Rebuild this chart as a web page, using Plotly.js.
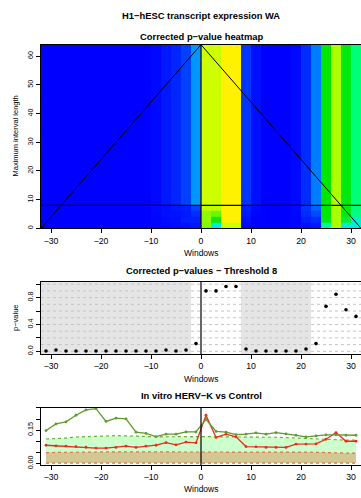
<!DOCTYPE html>
<html>
<head>
<meta charset="utf-8">
<script src="https://cdn.plot.ly/plotly-3.0.1.min.js"></script>
<style>html,body{margin:0;padding:0;background:#fff}#chart{width:361px;height:498px}</style>
</head>
<body>
<div id="chart"></div>
<script>
// ---------- data ----------
const windows = [-31,-29,-27,-25,-23,-21,-19,-17,-15,-13,-11,-9,-7,-5,-3,-1,1,3,5,7,9,11,13,15,17,19,21,23,25,27,29,31];

// heatmap: bins of maximum interval length (edges) and corrected p-values per bin
const lengthBins = [0, 2, 4, 6, 8, 64];
const heatRow0 = [0,0,0,0,0,0,0,0,0,0,0,0.003,0.006,0.008,0.01,0.015,0.80,0.36,0.90,0.90,0.005,0,0,0,0,0.003,0.01,0.015,0.45,0.85,0.36,0.36];
const heatRow1 = [0,0,0,0,0,0,0,0,0,0,0,0.003,0.008,0.01,0.02,0.02,0.82,0.68,0.965,0.965,0.01,0,0,0,0,0.003,0.02,0.03,0.64,0.85,0.60,0.38];
const heatRow2 = [0,0,0,0,0,0,0,0,0,0,0,0.004,0.01,0.012,0.015,0.03,0.82,0.78,0.965,0.965,0.015,0.003,0,0,0,0.004,0.03,0.05,0.66,0.85,0.64,0.50];
const heatRow3 = [0,0,0,0,0,0,0,0,0,0,0,0.005,0.01,0.015,0.02,0.045,0.88,0.88,0.965,0.965,0.02,0.005,0,0,0,0.005,0.035,0.07,0.66,0.85,0.64,0.52];
const heatTop  = [0,0,0,0,0,0,0,0,0,0,0,0.005,0.015,0.025,0.045,0.11,0.90,0.90,0.965,0.965,0.035,0.01,0,0,0,0.005,0.03,0.09,0.66,0.85,0.64,0.52];

const threshold = 8;
const maxLength = 64;

// corrected p-values at threshold 8
const pvals = [0.005,0.02,0.005,0.005,0.005,0.005,0.005,0.005,0.005,0.005,0.005,0.005,0.02,0.005,0.02,0.115,0.90,0.90,0.965,0.965,0.035,0.005,0.005,0.005,0.005,0.005,0.035,0.115,0.67,0.85,0.62,0.52];
const sigCut = 0.05;
const pGrid = [0,0.1,0.2,0.3,0.4,0.5,0.6,0.7,0.8,0.9,1.0];

// in vitro HERV-K vs Control
const hervK = [0.148,0.178,0.187,0.217,0.241,0.247,0.189,0.204,0.201,0.141,0.135,0.121,0.132,0.132,0.142,0.142,0.199,0.144,0.141,0.130,0.132,0.138,0.132,0.139,0.133,0.127,0.120,0.124,0.129,0.129,0.127,0.127];
const control = [0.082,0.079,0.078,0.076,0.073,0.069,0.069,0.072,0.078,0.072,0.078,0.082,0.094,0.084,0.096,0.093,0.217,0.117,0.132,0.120,0.076,0.075,0.072,0.072,0.072,0.087,0.087,0.088,0.109,0.139,0.100,0.100];
const greenUpper = [0.110,0.111,0.114,0.119,0.121,0.123,0.125,0.125,0.124,0.122,0.121,0.120,0.120,0.121,0.121,0.122,0.121,0.120,0.119,0.118,0.118,0.118,0.118,0.118,0.116,0.113,0.110,0.108,0.106,0.105,0.105,0.105];
const greenLower = [0.003,0.003,0.003,0.003,0.003,0.003,0.003,0.003,0.003,0.003,0.003,0.003,0.003,0.003,0.003,0.003,0.003,0.003,0.003,0.003,0.003,0.003,0.003,0.003,0.003,0.003,0.003,0.003,0.003,0.003,0.003,0.003];
const redUpper = [0.049,0.050,0.050,0.051,0.052,0.052,0.052,0.052,0.052,0.053,0.053,0.053,0.053,0.053,0.054,0.054,0.054,0.054,0.054,0.054,0.054,0.053,0.053,0.053,0.052,0.052,0.051,0.050,0.049,0.048,0.047,0.046];
const redLower = [0.002,0.002,0.002,0.002,0.002,0.002,0.002,0.002,0.002,0.002,0.002,0.002,0.002,0.002,0.002,0.002,0.002,0.002,0.002,0.002,0.002,0.002,0.002,0.002,0.002,0.002,0.002,0.002,0.002,0.002,0.002,0.002];

const xTicks = [-30,-20,-10,0,10,20,30];

// ---------- styles ----------
const FONT = 'Liberation Sans, Arial, Helvetica, sans-serif';
const colorscale = [
  [0, 'rgb(0,0,255)'], [0.04, 'rgb(0,60,255)'], [0.11, 'rgb(0,150,255)'],
  [0.3, 'rgb(0,230,255)'], [0.52, 'rgb(0,255,120)'], [0.62, 'rgb(0,235,30)'],
  [0.66, 'rgb(0,232,0)'], [0.85, 'rgb(170,255,0)'], [0.9, 'rgb(205,255,0)'],
  [0.965, 'rgb(255,242,0)'], [1, 'rgb(255,255,0)']
];
const greenCol = '#5f9a2c', redCol = '#ee2a1a';

const H = 498, W = 361, ML = 41;
const py = p => 1 - p / H;
const px = p => (p - ML) / (W - ML);
const dom1 = [py(228.3), py(44.7)];
const dom2 = [py(354), py(281.5)];
const dom3 = [py(465), py(407.7)];

const traces = [
  {type:'heatmap', x: windows, y: lengthBins, z:[heatRow0, heatRow1, heatRow2, heatRow3, heatTop],
   colorscale: colorscale, zmin:0, zmax:1, showscale:false, xaxis:'x', yaxis:'y', hoverinfo:'skip'},
  {type:'scatter', mode:'markers', x: windows, y: pvals, xaxis:'x2', yaxis:'y2',
   marker:{color:'#000', size:3.6}},
  {type:'scatter', mode:'lines', x: windows, y: greenLower, xaxis:'x3', yaxis:'y3',
   line:{color:'#6aae30', width:1.2, dash:'dot'}},
  {type:'scatter', mode:'lines', x: windows, y: greenUpper, xaxis:'x3', yaxis:'y3', fill:'tonexty', fillcolor:'#ccffcc',
   line:{color:'#6aae30', width:1.2, dash:'dot'}},
  {type:'scatter', mode:'lines', x: windows, y: redLower, xaxis:'x3', yaxis:'y3',
   line:{color:'#e0704c', width:1.2, dash:'dot'}},
  {type:'scatter', mode:'lines', x: windows, y: redUpper, xaxis:'x3', yaxis:'y3', fill:'tonexty', fillcolor:'#d2c894',
   line:{color:'#e0704c', width:1.2, dash:'dot'}},
  {type:'scatter', mode:'lines+markers', x: windows, y: control, xaxis:'x3', yaxis:'y3',
   line:{color:redCol, width:1.3}, marker:{color:redCol, size:2.8}},
  {type:'scatter', mode:'lines+markers', x: windows, y: hervK, xaxis:'x3', yaxis:'y3',
   line:{color:greenCol, width:1.3}, marker:{color:greenCol, size:2.8}}
];

// shapes
const shapes = [];
const L = (x0,y0,x1,y1,xref,yref,w,layer) => ({type:'line', x0, y0, x1, y1, xref, yref, line:{color:'#000', width:w||1}, layer: layer||'above'});
shapes.push(L(-32, 0, 0, maxLength, 'x', 'y', 1));
shapes.push(L(0, maxLength, 32, 0, 'x', 'y', 1));
shapes.push(L(-32, threshold, 32, threshold, 'x', 'y', 1.2));
shapes.push(L(0, 0, 0, maxLength, 'x', 'y', 1.2));
// dotted grid for p-value panel
pGrid.forEach(g => shapes.push({type:'line', xref:'x2', yref:'y2', x0:-32, x1:32, y0:g, y1:g,
  line:{color:'#c4c4c4', width:1, dash:'dot'}, layer:'below'}));
// grey regions where p < cut (cover the grid)
let runStart = null;
for (let i = 0; i <= windows.length; i++) {
  const sig = i < windows.length && pvals[i] < sigCut;
  if (sig && runStart === null) runStart = i;
  if (!sig && runStart !== null) {
    shapes.push({type:'rect', xref:'x2', yref:'paper', x0: windows[runStart]-1, x1: windows[i-1]+1, y0:dom2[0], y1:dom2[1],
      fillcolor:'#e5e5e5', line:{width:0}, layer:'below'});
    runStart = null;
  }
}
shapes.push(L(0, dom2[0], 0, dom2[1], 'x2', 'paper', 1.2));
shapes.push(L(0, dom3[0], 0, dom3[1], 'x3', 'paper', 1.2));

const ann = (text, xpix, ypix, size, bold, angle) => ({
  text, xref:'paper', yref:'paper', x: px(xpix), y: py(ypix), xanchor:'center', yanchor:'middle',
  showarrow:false, textangle: angle||0, font:{family:FONT, size, color:'#000', weight: bold ? 'bold' : 'normal'}
});

const annotations = [
  ann('H1−hESC transcript expression WA', 201, 15, 9.4, true),
  ann('Corrected p−value heatmap', 201, 36, 9.4, true),
  ann('Windows', 201, 253, 8.5, false),
  ann('Corrected p−values − Threshold 8', 201, 270, 9.4, true),
  ann('Windows', 201, 378.5, 8.5, false),
  ann('In vitro HERV−K vs Control', 201, 395, 9.4, true),
  ann('Windows', 201, 489, 8.5, false),
  ann('Maximum interval length', 15, 136.5, 7.5, false, -90),
  ann('p−value', 15, 318, 7.5, false, -90)
];

const baseX = {range:[-32,32], tickvals:xTicks, ticks:'outside', ticklen:4, tickcolor:'#000', showline:true, mirror:true,
  linecolor:'#000', linewidth:1, showgrid:false, zeroline:false, tickfont:{family:FONT, size:8.7, color:'#000'}};
const baseY = {ticks:'outside', ticklen:4, tickcolor:'#000', showline:true, mirror:true, linecolor:'#000', linewidth:1,
  showgrid:false, zeroline:false, tickangle:-90, tickfont:{family:FONT, size:7.2, color:'#000'}};

const layout = {
  width: W, height: H, margin:{l:ML, r:0, t:0, b:0}, paper_bgcolor:'#fff', plot_bgcolor:'#fff', showlegend:false,
  xaxis: Object.assign({}, baseX, {anchor:'y', domain:[0,1]}),
  yaxis: Object.assign({}, baseY, {anchor:'x', domain:dom1, range:[0,64], tickvals:[0,10,20,30,40,50,60]}),
  xaxis2: Object.assign({}, baseX, {anchor:'y2', domain:[0,1]}),
  yaxis2: Object.assign({}, baseY, {anchor:'x2', domain:dom2, range:[-0.04,1.04],
    tickvals:[0,0.2,0.4,0.6,0.8,1.0], ticktext:['0.0','','0.4','','0.8','']}),
  xaxis3: Object.assign({}, baseX, {anchor:'y3', domain:[0,1]}),
  yaxis3: Object.assign({}, baseY, {anchor:'x3', domain:dom3, range:[-0.007,0.251],
    tickvals:[0,0.05,0.10,0.15,0.20,0.25], ticktext:['0.00','','','0.15','','']}),
  shapes, annotations
};

Plotly.newPlot('chart', traces, layout, {staticPlot:true, displayModeBar:false});
</script>
</body>
</html>
